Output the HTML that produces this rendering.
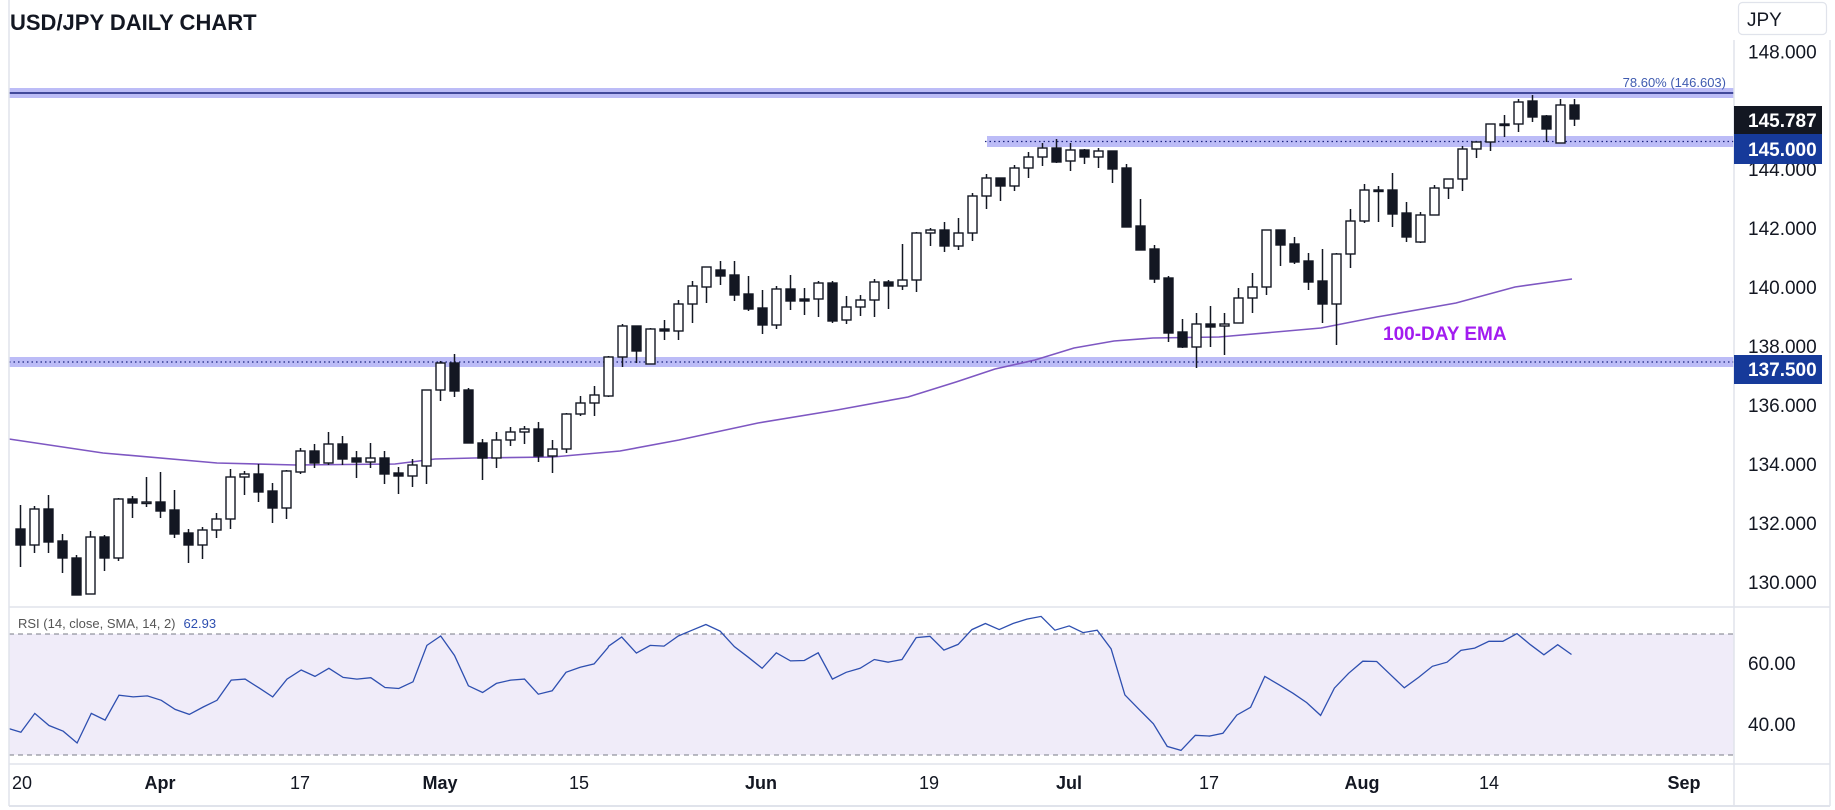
<!DOCTYPE html>
<html><head><meta charset="utf-8"><style>
html,body{margin:0;padding:0;background:#fff;width:1835px;height:810px;overflow:hidden;}
svg{display:block;font-family:"Liberation Sans",sans-serif;}
</style></head><body>
<svg id="s" width="1835" height="810" xmlns="http://www.w3.org/2000/svg"></svg>
<script>
(function(){
var S=document.getElementById('s'),h='';
function X(i){return 160.5+14*i;}
h+='<rect x="0" y="0" width="1835" height="810" fill="#fff"/>';
h+='<rect x="9" y="634" width="1725" height="121" fill="#f0ecf9"/>';
h+='<line x1="9" y1="634" x2="1734" y2="634" stroke="#787b86" stroke-width="1" stroke-dasharray="5,4"/>';
h+='<line x1="9" y1="755" x2="1734" y2="755" stroke="#787b86" stroke-width="1" stroke-dasharray="5,4"/>';
h+='<rect x="9" y="88" width="1725" height="10" fill="#bcbcf7"/>';
h+='<line x1="9" y1="93" x2="1734" y2="93" stroke="#1a237e" stroke-width="1.5"/>';
h+='<rect x="987" y="136" width="747" height="11" fill="#bcbcf7"/>';
h+='<line x1="985" y1="141.5" x2="1734" y2="141.5" stroke="#1a237e" stroke-width="1.2" stroke-dasharray="1.5,3"/>';
h+='<rect x="9" y="357" width="1725" height="10" fill="#bcbcf7"/>';
h+='<line x1="9" y1="362" x2="1734" y2="362" stroke="#1a237e" stroke-width="1.2" stroke-dasharray="1.5,3"/>';
h+='<text x="1726" y="87" text-anchor="end" font-size="13" fill="#3f5bb0">78.60% (146.603)</text>';
var ema=[[9,439],[103,453],[217,463],[296,465],[395,464],[435,459],[474,458],[553,457],[620,451],[679,440],[758,423],[837,410],[908,397],[956,382],[995,369],[1035,360],[1074,348],[1114,341],[1153,338],[1219,337],[1321,328],[1377,317],[1456,303],[1515,287],[1572,279]];
h+='<polyline fill="none" stroke="#7e57c2" stroke-width="1.6" points="'+ema.map(function(p){return p.join(',')}).join(' ')+'"/>';
h+='<text x="1383" y="340" font-size="19" font-weight="bold" fill="#a21cf0">100-DAY EMA</text>';
var C=[[473,530,473,530],[529,545,505,567],[545,509,506,553],[509,542,495,553],[541,558,534,573],[558,595,555,595],[594,537,531,594],[537,558,535,571],[558,499,498,561],[499,503,496,518],[503,502,477,507],
[502,511,472,518],[510,534,490,538],[533,545,529,563],[545,530,527,559],[530,519,513,538],[519,477,469,529],[477,474,471,495],[474,492,464,502],[491,508,483,523],[508,471,470,519],[472,451,448,474],[451,463,444,468],[463,444,432,465],[444,459,436,465],[458,462,451,478],[462,458,443,468],[458,474,451,484],[473,476,467,494],[476,465,459,487],[466,390,390,484],[390,363,361,401],[363,391,354,397],[390,443,388,443],[443,458,439,480],[458,440,432,468],[440,432,427,446],[432,429,426,444],[429,456,422,462],[456,449,440,473],[449,414,413,453],[414,403,396,416],[403,395,386,416],[396,357,356,397],
[357,326,324,367],[326,351,326,363],[364,329,328,364],[329,331,320,340],[331,304,300,340],[304,286,281,323],[287,267,267,303],[270,276,261,285],[275,295,261,301],[294,309,276,311],[308,325,290,334],[325,289,286,329],[289,301,275,310],[299,301,288,315],[299,283,281,317],[283,321,281,323],[320,307,296,324],[307,300,295,316],[300,282,279,317],[282,286,280,309],[286,280,244,290],[280,233,232,292],[233,230,228,246],[230,246,222,252],[246,233,218,250],[233,196,193,241],[196,178,174,209],[178,186,178,201],[186,168,165,191],[168,157,152,178],[157,148,143,166],[148,162,139,163],[161,150,143,171],[150,157,149,164],[157,151,148,168],[151,169,151,183],[168,227,164,227],[226,250,199,250],[249,279,245,283],[278,333,276,342],[332,347,319,348],[347,324,313,368],[324,327,306,347],
[326,324,313,355],[323,298,288,323],[298,287,273,313],[287,230,230,295],[230,245,230,266],[244,262,237,264],[261,282,253,290],[281,304,249,323],[304,254,253,345],[254,221,209,268],[221,190,184,223],[190,191,186,222],[190,214,173,227],[213,237,202,242],[242,215,212,243],[215,188,185,215],[188,179,179,199],[179,149,146,191],[149,142,142,158],[142,124,124,151],[124,124,115,137],[124,102,99,132],[101,117,95,122],[116,129,115,142],[143,105,99,143],[105,119,99,126]];
for(var k=0;k<C.length;k++){var i=k-11,x=X(i),c=C[k],o=c[0],cl=c[1],hi=Math.min(c[2],o,cl),lo=Math.max(c[3],o,cl);
 if(x<9)continue;
 var bt=Math.min(o,cl),bh=Math.max(1.5,Math.abs(o-cl)),white=cl<o;
 h+='<line x1="'+x+'" y1="'+hi+'" x2="'+x+'" y2="'+lo+'" stroke="#131722" stroke-width="1.5"/>';
 h+='<rect x="'+(x-4.5)+'" y="'+bt+'" width="9" height="'+bh+'" fill="'+(white?'#fff':'#131722')+'" stroke="#131722" stroke-width="1.4"/>';
}
var r=[];
function add(ox,arr){for(var j=0;j<arr.length;j+=2){r.push([ox+arr[j]/2.53,440+arr[j+1]/2.97]);}}
add(0,[0,857,53,868,88,812,124,848,160,865,195,900,231,812,266,832,301,758,337,763,373,760,408,773,443,800,479,815,514,793,549,773,585,713,620,710,656,737,690,763,726,710,762,683,797,702,832,678,868,705,903,710,938,706,974,735,1009,738,1045,718,1080,610,1115,582,1150,640,1185,730,1221,750,1256,723,1292,713,1327,710,1362,755,1397,745,1432,690,1468,675,1503,665,1538,617]);
add(600,[22,612,55,585,92,633,127,610,162,612,198,582,233,565,268,548,304,568,340,614,375,645,410,678,446,632,482,656,517,655,552,632,588,710,623,690,658,678,694,652,729,660,764,652,800,587,835,583,870,624,906,607,941,563,975,545,1010,563,1045,545,1080,532,1116,524,1151,565,1187,552,1222,572,1258,565,1293,620,1328,757,1364,800,1400,843,1435,910,1470,922,1506,877,1541,879]);
add(1200,[22,880,58,871,93,817,128,794,164,702,200,727,235,752,270,780,305,818,340,737,376,693,412,657,447,658,482,697,517,736,553,705,588,672,625,660,660,625,695,618,731,598,766,598,802,575,836,608,870,638,905,608,940,637]);
r[0][0]=9;
h+='<polyline fill="none" stroke="#2e4fb0" stroke-width="1.3" points="'+r.map(function(p){return p[0].toFixed(1)+','+p[1].toFixed(1)}).join(' ')+'"/>';
h+='<text x="18" y="628" font-size="13" fill="#555">RSI (14, close, SMA, 14, 2)<tspan dx="8" fill="#2e4fb0">62.93</tspan></text>';
h+='<rect x="1734" y="38" width="101" height="772" fill="#fff"/>';
h+='<line x1="9" y1="0" x2="9" y2="806" stroke="#e0e3eb" stroke-width="1.5"/>';
h+='<line x1="1734" y1="40" x2="1734" y2="806" stroke="#e0e3eb" stroke-width="1.5"/>';
h+='<line x1="1830" y1="40" x2="1830" y2="806" stroke="#e0e3eb" stroke-width="1.5"/>';
h+='<line x1="9" y1="607" x2="1830" y2="607" stroke="#e0e3eb" stroke-width="1.5"/>';
h+='<line x1="9" y1="764" x2="1830" y2="764" stroke="#e0e3eb" stroke-width="1.5"/>';
h+='<line x1="9" y1="806" x2="1830" y2="806" stroke="#e0e3eb" stroke-width="2"/>';
[[148,51.5],[144,169],[142,228],[140,287],[138,346],[136,405],[134,464],[132,523],[130,582]].forEach(function(t){h+='<text x="1748" y="'+(t[1]+7)+'" font-size="19" fill="#131722">'+t[0]+'.000</text>';});
h+='<text x="1748" y="670" font-size="19" fill="#131722">60.00</text>';
h+='<text x="1748" y="731" font-size="19" fill="#131722">40.00</text>';
h+='<rect x="1734" y="106" width="88" height="28" fill="#131722"/><text x="1748" y="127" font-size="19" font-weight="bold" fill="#fff">145.787</text>';
h+='<rect x="1734" y="134" width="88" height="30" fill="#163a9a"/><text x="1748" y="156" font-size="19" font-weight="bold" fill="#fff">145.000</text>';
h+='<rect x="1734" y="355" width="88" height="29" fill="#163a9a"/><text x="1748" y="376" font-size="19" font-weight="bold" fill="#fff">137.500</text>';
h+='<rect x="1738.5" y="2.5" width="88" height="32" rx="4" fill="#fff" stroke="#e0e3eb" stroke-width="1.2"/><text x="1747" y="26" font-size="19" fill="#131722">JPY</text>';
[["20",22,0],["Apr",160,1],["17",300,0],["May",440,1],["15",579,0],["Jun",761,1],["19",929,0],["Jul",1069,1],["17",1209,0],["Aug",1362,1],["14",1489,0],["Sep",1684,1]].forEach(function(t){h+='<text x="'+t[1]+'" y="789" text-anchor="middle" font-size="18" '+(t[2]?'font-weight="bold"':'')+' fill="#131722">'+t[0]+'</text>';});
h+='<text x="10" y="30" font-size="22" font-weight="bold" fill="#131722">USD/JPY DAILY CHART</text>';
S.innerHTML=h;
})();
</script>
</body></html>
